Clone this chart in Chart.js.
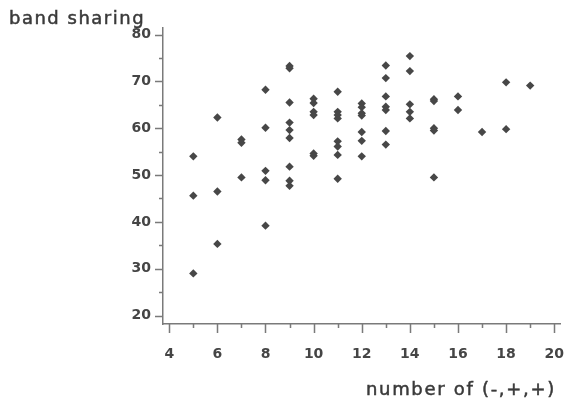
<!DOCTYPE html>
<html>
<head>
<meta charset="utf-8">
<script src="https://cdn.jsdelivr.net/npm/chart.js@4"></script>
<style>
  html, body { margin: 0; padding: 0; background: #fff; }
  #wrap { width: 566px; height: 409px; position: relative; }
</style>
</head>
<body>
<div id="wrap"><canvas id="c" width="566" height="409"></canvas></div>
<script>
// Number of (-,+,+) values (x categories)
const numberOfPatterns = [5, 6, 7, 8, 9, 10, 11, 12, 13, 14, 15, 16, 17, 18, 19];
// Band sharing values observed at each x
const bandSharingByNumber = [
  [54.0, 45.6, 29.0],
  [62.3, 46.5, 35.3],
  [57.6, 56.9, 49.5],
  [68.2, 60.1, 50.9, 48.9, 39.2],
  [73.3, 72.8, 65.5, 61.2, 59.6, 57.9, 51.8, 48.8, 47.7],
  [66.3, 65.4, 63.5, 62.8, 54.6, 54.1],
  [67.8, 63.5, 62.8, 62.1, 57.2, 56.1, 54.3, 49.2],
  [65.3, 64.5, 63.2, 62.7, 59.2, 57.3, 54.0],
  [73.4, 70.7, 66.8, 64.6, 63.9, 59.4, 56.5],
  [75.4, 72.2, 65.1, 63.5, 62.1],
  [66.2, 65.8, 60.0, 59.5, 49.5],
  [66.8, 63.9],
  [59.2],
  [69.8, 59.8],
  [69.1]
];
const xTickLabels = [4, 6, 8, 10, 12, 14, 16, 18, 20];
const xMinorTicks = [5, 7, 9, 11, 13, 15, 17, 19];
const yTickLabels = [20, 30, 40, 50, 60, 70, 80];
const yMinorTicks = [25, 35, 45, 55, 65, 75];
const yTitle = 'band sharing';
const xTitle = 'number of (-,+,+)';

const points = [];
numberOfPatterns.forEach((n, i) => {
  bandSharingByNumber[i].forEach(v => points.push({x: n, y: v}));
});

const AXIS_COLOR = '#7a7a7a';
const TEXT_COLOR = '#454545';

const tickMarks = {
  id: 'tickMarks',
  afterDraw(chart) {
    const ctx = chart.ctx;
    const xs = chart.scales.x, ys = chart.scales.y;
    const ca = chart.chartArea;
    ctx.save();
    ctx.strokeStyle = AXIS_COLOR;
    ctx.lineWidth = 1.5;
    ctx.beginPath();
    yTickLabels.forEach(v => {
      const py = Math.round(ys.getPixelForValue(v)) + 0.5;
      ctx.moveTo(ca.left, py); ctx.lineTo(ca.left - 8, py);
    });
    yMinorTicks.forEach(v => {
      const py = Math.round(ys.getPixelForValue(v)) + 0.5;
      ctx.moveTo(ca.left, py); ctx.lineTo(ca.left - 4, py);
    });
    xTickLabels.forEach(v => {
      const px = Math.round(xs.getPixelForValue(v)) + 0.5;
      ctx.moveTo(px, ca.bottom); ctx.lineTo(px, ca.bottom + 9);
    });
    xMinorTicks.forEach(v => {
      const px = Math.round(xs.getPixelForValue(v)) + 0.5;
      ctx.moveTo(px, ca.bottom); ctx.lineTo(px, ca.bottom + 4);
    });
    ctx.stroke();

    ctx.fillStyle = '#3a3a3a';
    ctx.strokeStyle = '#3a3a3a';
    ctx.lineWidth = 0.5;
    ctx.textAlign = 'left';
    ctx.textBaseline = 'alphabetic';
    ctx.font = '18px "DejaVu Sans"';
    if ('letterSpacing' in ctx) ctx.letterSpacing = '1.5px';
    ctx.fillText(yTitle, 9, 23.5);
    ctx.strokeText(yTitle, 9, 23.5);
    ctx.textAlign = 'right';
    if ('letterSpacing' in ctx) ctx.letterSpacing = '1.7px';
    ctx.fillText(xTitle, 556, 395);
    ctx.strokeText(xTitle, 556, 395);
    ctx.restore();
  }
};

new Chart(document.getElementById('c'), {
  type: 'scatter',
  data: {
    datasets: [{
      data: points,
      pointStyle: 'rectRot',
      pointRadius: 4.2,
      pointHoverRadius: 4.2,
      backgroundColor: '#474747',
      borderColor: '#474747',
      borderWidth: 0
    }]
  },
  options: {
    responsive: false,
    animation: false,
    events: [],
    layout: { padding: { left: 0, right: 6, top: 28, bottom: 0 } },
    plugins: { legend: { display: false }, tooltip: { enabled: false }, title: { display: false } },
    scales: {
      x: {
        type: 'linear',
        min: 3.74,
        max: 20.24,
        afterBuildTicks: s => { s.ticks = xTickLabels.map(v => ({value: v})); },
        afterFit: s => { s.height = 85; s.paddingLeft = 0; s.paddingRight = 0; },
        grid: { display: false, drawTicks: false },
        border: { display: true, color: AXIS_COLOR, width: 1.5 },
        ticks: {
          color: TEXT_COLOR,
          font: { family: 'DejaVu Sans', size: 14, weight: 'bold' },
          padding: 22,
          maxRotation: 0,
          autoSkip: false
        }
      },
      y: {
        type: 'linear',
        min: 18.2,
        max: 81.4,
        afterBuildTicks: s => { s.ticks = yTickLabels.map(v => ({value: v})); },
        afterFit: s => { s.width = 163; s.paddingTop = 0; s.paddingBottom = 0; },
        grid: { display: false, drawTicks: false },
        border: { display: true, color: AXIS_COLOR, width: 1.5 },
        ticks: {
          color: TEXT_COLOR,
          font: { family: 'DejaVu Sans', size: 14, weight: 'bold' },
          padding: 12,
          autoSkip: false
        }
      }
    }
  },
  plugins: [tickMarks]
});
</script>
</body>
</html>
